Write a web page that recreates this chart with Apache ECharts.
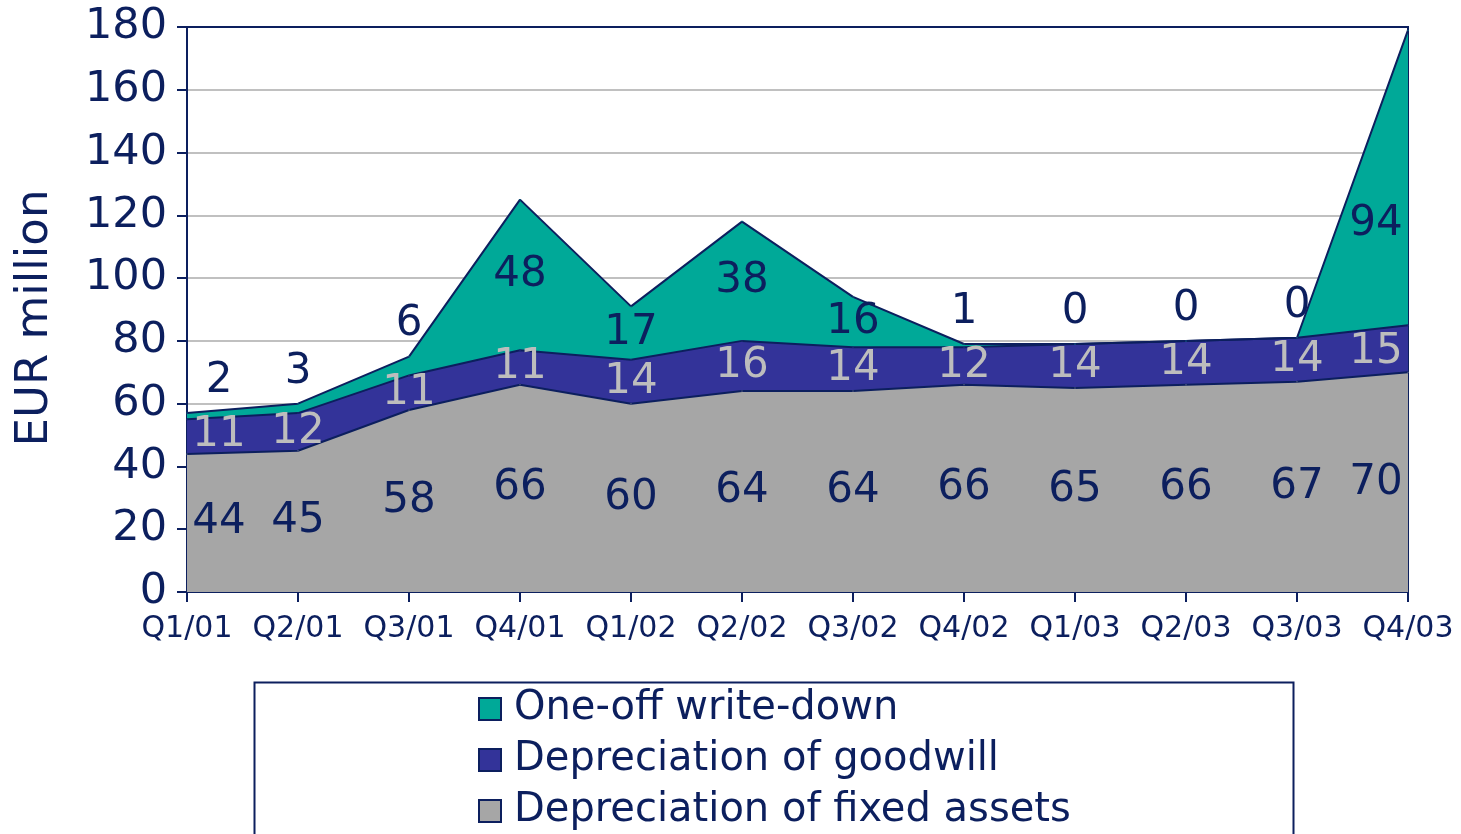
<!DOCTYPE html>
<html>
<head>
<meta charset="utf-8">
<script src="https://cdn.jsdelivr.net/npm/echarts@6/dist/echarts.min.js"></script>
<style>
  html, body { margin: 0; padding: 0; background: #ffffff; }
  #chart { width: 1461px; height: 834px; }
</style>
</head>
<body>
<div id="chart"></div>
<script>
// ---- data ----
const categories = ['Q1/01', 'Q2/01', 'Q3/01', 'Q4/01', 'Q1/02', 'Q2/02', 'Q3/02', 'Q4/02', 'Q1/03', 'Q2/03', 'Q3/03', 'Q4/03'];
const fixedAssets = [44, 45, 58, 66, 60, 64, 64, 66, 65, 66, 67, 70];
const goodwill    = [11, 12, 11, 11, 14, 16, 14, 12, 14, 14, 14, 15];
const writeDown   = [2, 3, 6, 48, 17, 38, 16, 1, 0, 0, 0, 94];
const seriesNames = ['Depreciation of fixed assets', 'Depreciation of goodwill', 'One-off write-down'];
const yTicks = { min: 0, max: 180, interval: 20 };

// ---- styling ----
const NAVY = '#0c1f5e';
const FONT = 'DejaVu Sans, Verdana, sans-serif';
const GRID = { left: 187, right: 53, top: 27, bottom: 242 };
const plotH = 834 - GRID.top - GRID.bottom;
const plotW = 1461 - GRID.left - GRID.right;
const ppu = plotH / (yTicks.max - yTicks.min);
const catW = plotW / (categories.length - 1);
const edgeShift = 32;

// label placement: centre of each band (first/last points nudged inward),
// tiny write-down bands get their label just above the stack
function buildData(values, base, smallAbove) {
  const n = values.length;
  return values.map((v, i) => {
    let dx = 0, j = i, f = 0;
    if (i === 0) { dx = edgeShift; j = 1; f = edgeShift / catW; }
    else if (i === n - 1) { dx = -edgeShift; j = n - 2; f = edgeShift / catW; }
    const top = base[i] + v;
    let dy;
    if (smallAbove && v < 10) {
      dy = -32;
    } else {
      const b = base[i] + (base[j] - base[i]) * f;
      const t = top + ((base[j] + values[j]) - top) * f;
      const mid = (b + t) / 2;
      dy = (top - mid) * ppu;
    }
    return { value: v, label: { offset: [dx, dy] } };
  });
}

const zeros = categories.map(() => 0);
const base2 = fixedAssets.slice();
const base3 = fixedAssets.map((v, i) => v + goodwill[i]);

function areaSeries(name, values, base, fill, labelColor, smallAbove) {
  return {
    name: name,
    type: 'line',
    stack: 'total',
    symbol: 'circle',
    symbolSize: 1,
    showSymbol: true,
    itemStyle: { color: fill },
    lineStyle: { color: NAVY, width: 2 },
    areaStyle: { color: fill, opacity: 1 },
    label: {
      show: true,
      position: 'inside',
      color: labelColor,
      fontFamily: FONT,
      fontSize: 42
    },
    emphasis: { disabled: true },
    data: buildData(values, base, smallAbove)
  };
}

const chart = echarts.init(document.getElementById('chart'));
chart.setOption({
  backgroundColor: '#ffffff',
  animation: false,
  textStyle: { fontFamily: FONT },
  grid: Object.assign({ show: true, borderColor: NAVY, borderWidth: 2, containLabel: false }, GRID),
  legend: {
    data: [seriesNames[2], seriesNames[1], seriesNames[0]],
    orient: 'vertical',
    left: 478,
    top: 688,
    padding: 0,
    itemGap: 9,
    itemWidth: 22,
    itemHeight: 22,
    icon: 'rect',
    itemStyle: { borderColor: NAVY, borderWidth: 2 },
    textStyle: { color: NAVY, fontSize: 40, lineHeight: 42, fontFamily: FONT, padding: [0, 0, 0, 8] }
  },
  graphic: [
    {
      type: 'rect',
      left: 252, top: 680,
      shape: { width: 1039, height: 200 },
      style: { fill: 'none', stroke: NAVY, lineWidth: 2 },
      silent: true
    },
    {
      type: 'text',
      x: 35, y: 318,
      rotation: Math.PI / 2,
      style: {
        text: 'EUR million',
        fill: NAVY,
        font: '45px ' + FONT,
        textAlign: 'center',
        textVerticalAlign: 'middle'
      },
      silent: true
    }
  ],
  xAxis: {
    type: 'category',
    data: categories,
    boundaryGap: false,
    axisLine: { show: true, lineStyle: { color: NAVY, width: 2 } },
    axisTick: { show: true, length: 10, lineStyle: { color: NAVY, width: 2 } },
    axisLabel: { color: NAVY, fontSize: 30, fontFamily: FONT, margin: 22, interval: 0 },
    splitLine: { show: false }
  },
  yAxis: {
    type: 'value',
    min: yTicks.min,
    max: yTicks.max,
    interval: yTicks.interval,
    axisLine: { show: true, lineStyle: { color: NAVY, width: 2 } },
    axisTick: { show: true, length: 10, lineStyle: { color: NAVY, width: 2 } },
    axisLabel: { color: NAVY, fontSize: 43, fontFamily: FONT, margin: 20 },
    splitLine: { show: true, showMinLine: false, showMaxLine: false, lineStyle: { color: '#c0c0c0', width: 2 } }
  },
  series: [
    areaSeries(seriesNames[0], fixedAssets, zeros, '#a6a6a6', NAVY, false),
    areaSeries(seriesNames[1], goodwill, base2, '#333399', '#bdbdbd', false),
    areaSeries(seriesNames[2], writeDown, base3, '#00a998', NAVY, true)
  ]
});
</script>
</body>
</html>
